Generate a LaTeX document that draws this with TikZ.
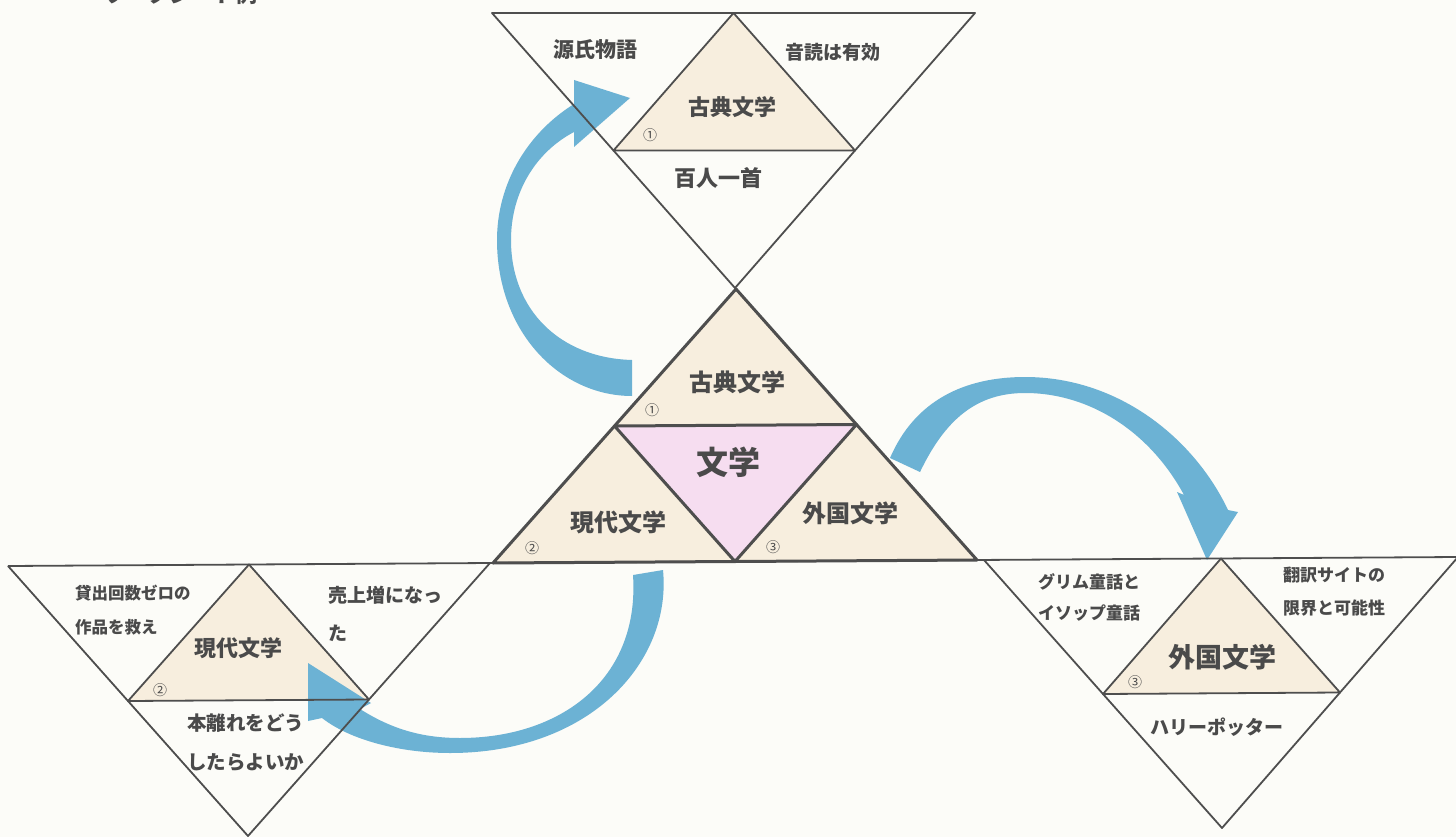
\documentclass[tikz,border=0pt]{standalone}
\usepackage{fontspec}
\usetikzlibrary{calc}
\newfontfamily\jp{Noto Sans CJK JP}
\definecolor{paper}{RGB}{252,252,248}
\definecolor{beige}{RGB}{247,238,222}
\definecolor{pinkfill}{RGB}{246,221,240}
\definecolor{arrowblue}{RGB}{108,178,212}
\definecolor{linegray}{RGB}{78,78,78}
\definecolor{txtgray}{RGB}{74,74,74}
\begin{document}
\begin{tikzpicture}[x=1pt,y=-1pt,
  thinline/.style={draw=linegray, line width=1.8pt, line join=round},
  boldline/.style={draw=linegray, line width=3pt, line join=round},
  lbl/.style={text=txtgray, inner sep=0pt, font=\jp\bfseries\fontsize{#1}{#1}\selectfont},
  circnum/.style={text=txtgray, inner sep=0pt, font=\jp\fontsize{14}{14}\selectfont},
  bluearrow/.style={fill=arrowblue, draw=none}]
\useasboundingbox (0,0) rectangle (1456,837);
\fill[paper] (0,0) rectangle (1456,837);

% heading, cut off at the top edge
\begin{scope}
\clip (0,0) rectangle (1456,837);
\node[lbl=22, anchor=base west] (head) at (103,3) {ワークシート例};
\end{scope}

% ---------- coordinates ----------
% top inverted triangle
\coordinate (TL) at (492,13);
\coordinate (TR) at (975,13);
\coordinate (TB) at (735,288);
% central triangle
\coordinate (CA) at (736,289);
\coordinate (CL) at (493,563);
\coordinate (CR) at (977,560);
% left inverted triangle
\coordinate (LL) at (8,566);
\coordinate (LR) at (490,563);
\coordinate (LB) at (248,836);
% right inverted triangle
\coordinate (RL) at (984,560);
\coordinate (RR) at (1458,557);
\coordinate (RB) at (1222,828);
% midpoints
\coordinate (TM) at ($(TL)!0.5!(TR)$);
\coordinate (TLm) at ($(TL)!0.5!(TB)$);
\coordinate (TRm) at ($(TR)!0.5!(TB)$);
\coordinate (CML) at ($(CA)!0.5!(CL)$);
\coordinate (CMR) at ($(CA)!0.5!(CR)$);
\coordinate (CMB) at ($(CL)!0.5!(CR)$);
\coordinate (LM) at ($(LL)!0.5!(LR)$);
\coordinate (LLm) at ($(LL)!0.5!(LB)$);
\coordinate (LRm) at ($(LR)!0.5!(LB)$);
\coordinate (RM) at ($(RL)!0.5!(RR)$);
\coordinate (RLm) at ($(RL)!0.5!(RB)$);
\coordinate (RRm) at ($(RR)!0.5!(RB)$);

% ---------- fills ----------
\fill[beige] (TM) -- (TLm) -- (TRm) -- cycle;
\fill[beige] (CA) -- (CL) -- (CR) -- cycle;
\fill[pinkfill] (CML) -- (CMR) -- (CMB) -- cycle;
\fill[beige] (LM) -- (LLm) -- (LRm) -- cycle;
\fill[beige] (RM) -- (RLm) -- (RRm) -- cycle;

% ---------- blue arrows ----------
% central -> top
\fill[bluearrow] (632,360) .. controls (560,358) and (511,310) .. (511,240)
  .. controls (511,192) and (536,152) .. (574,132)
  -- (574,147) -- (630,98) -- (574,80) -- (574,104)
  .. controls (526,134) and (497,185) .. (497,240)
  .. controls (497,332) and (560,396) .. (632,396) -- cycle;
% central -> right
\fill[bluearrow] (890,458) .. controls (915,400) and (965,377) .. (1025,377)
  .. controls (1120,377) and (1195,440) .. (1228,510)
  -- (1238,512) -- (1207,560) -- (1177,492) -- (1184,495)
  .. controls (1150,432) and (1090,393) .. (1025,393)
  .. controls (976,393) and (945,420) .. (920,472) -- cycle;
% central -> left
\fill[bluearrow] (663,570) .. controls (672,662) and (590,753) .. (450,753)
  .. controls (400,753) and (350,740) .. (322,718)
  -- (308,721) -- (308,663) -- (371,703) -- (360,709)
  .. controls (390,728) and (420,738) .. (460,738)
  .. controls (560,738) and (640,680) .. (633,575) -- cycle;

% ---------- lines ----------
\draw[thinline] (TL) -- (TR) -- (TB) -- cycle;
\draw[thinline] (TM) -- (TLm) -- (TRm) -- cycle;
\draw[thinline] (LL) -- (RR);
\draw[thinline] (LL) -- (LB) -- (LR);
\draw[thinline] (LM) -- (LLm) -- (LRm) -- cycle;
\draw[thinline] (RL) -- (RB) -- (RR);
\draw[thinline] (RM) -- (RLm) -- (RRm) -- cycle;
\draw[boldline] (CA) -- (CL) -- (CR) -- cycle;
\draw[boldline] (CML) -- (CMR) -- (CMB) -- cycle;

% ---------- texts: top ----------
\node[lbl=21] (t1) at (595,50) {源氏物語};
\node[lbl=19] (t2) at (833,52) {音読は有効};
\node[lbl=22] (t3) at (732,107) {古典文学};
\node[circnum] (t4) at (650,135) {①};
\node[lbl=22] (t5) at (718,178) {百人一首};

% ---------- texts: centre ----------
\node[lbl=24] (c1) at (737,382) {古典文学};
\node[circnum] (c2) at (652,410) {①};
\node[lbl=32] (c3) at (728,462) {文学};
\node[lbl=24] (c4) at (618,522) {現代文学};
\node[circnum] (c5) at (532,548) {②};
\node[lbl=24] (c6) at (850,513) {外国文学};
\node[circnum] (c7) at (773,547) {③};

% ---------- texts: left ----------
\node[lbl=16.5, anchor=west] (l1) at (75,593) {貸出回数ゼロの};
\node[lbl=16.5, anchor=west] (l2) at (75,627) {作品を救え};
\node[lbl=22] (l3) at (238,648) {現代文学};
\node[circnum] (l4) at (160,690) {②};
\node[lbl=19, anchor=west] (l5) at (328,595) {売上増になっ};
\node[lbl=19, anchor=west] (l6) at (328,633) {た};
\node[lbl=19.5, anchor=west] (l7) at (187,723) {本離れをどう};
\node[lbl=19.5, anchor=west] (l8) at (187,762) {したらよいか};

% ---------- texts: right ----------
\node[lbl=17, anchor=west] (r1) at (1038,582) {グリム童話と};
\node[lbl=17, anchor=west] (r2) at (1038,613) {イソップ童話};
\node[lbl=17, anchor=west] (r3) at (1283,575) {翻訳サイトの};
\node[lbl=17, anchor=west] (r4) at (1283,608) {限界と可能性};
\node[lbl=27] (r5) at (1222,657) {外国文学};
\node[circnum] (r6) at (1135,682) {③};
\node[lbl=19] (r7) at (1217,727) {ハリーポッター};
\end{tikzpicture}
\end{document}
